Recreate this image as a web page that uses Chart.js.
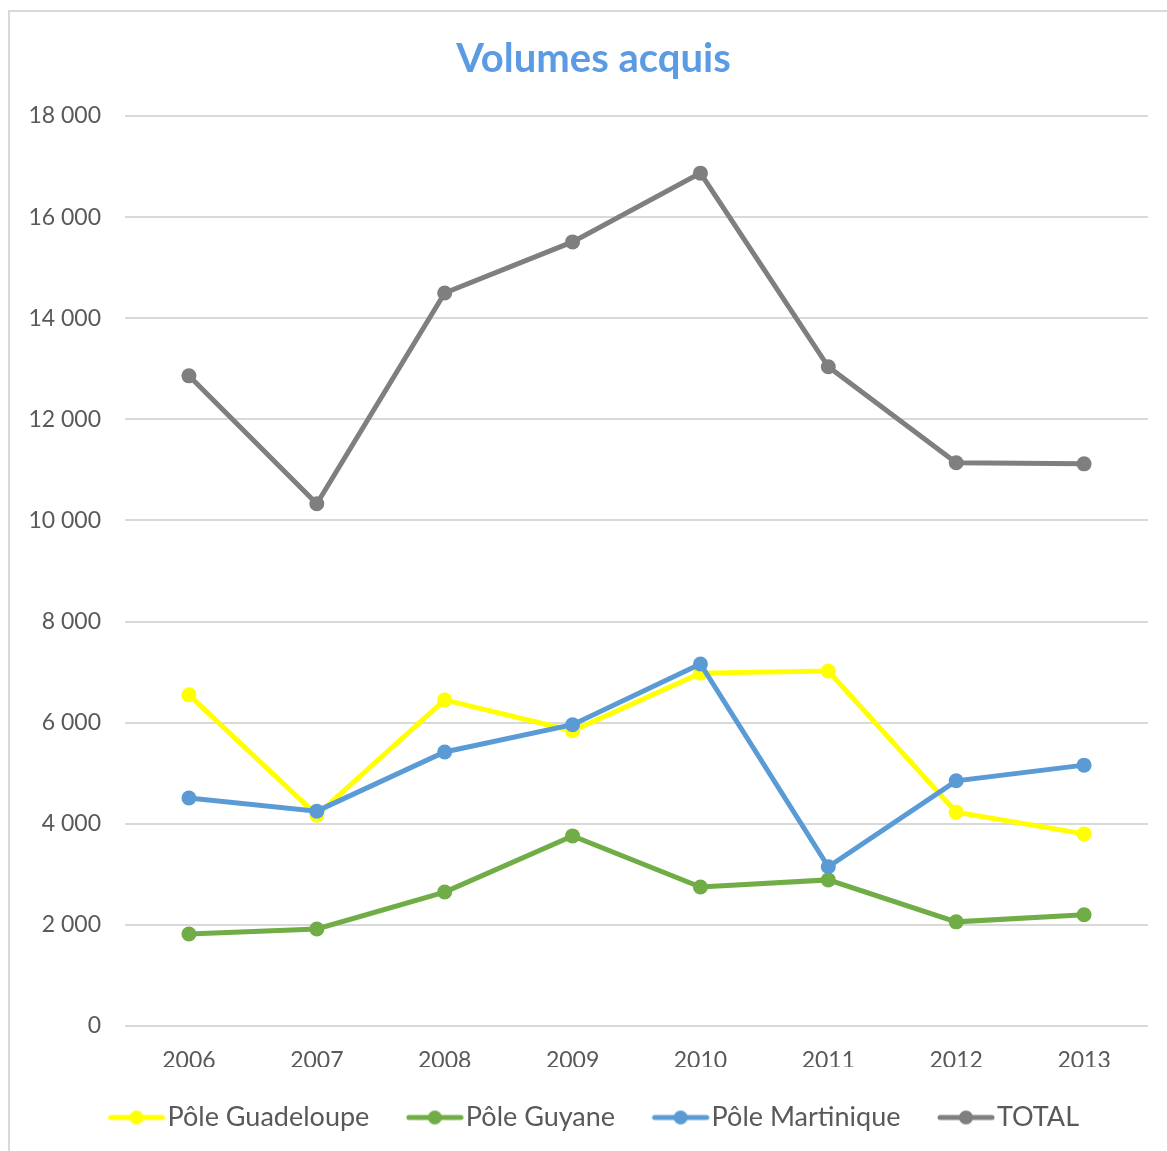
<!DOCTYPE html>
<html>
<head>
<meta charset="utf-8">
<script src="https://cdn.jsdelivr.net/npm/chart.js@4"></script>
<style>
  html, body { margin: 0; padding: 0; background: #fff; overflow: hidden; }
  #frame { position: absolute; left: 8px; top: 10px; width: 1172px; height: 1150px; border: 2px solid #d9d9d9; box-sizing: border-box; }
  #wrap { position: absolute; left: 0; top: 0; width: 1187px; height: 1151px; }
</style>
</head>
<body>
<div id="frame"></div>
<div id="wrap"><canvas id="lineChart"></canvas></div>
<script>
// données
const years = ['2006', '2007', '2008', '2009', '2010', '2011', '2012', '2013'];
const guadeloupe = [6550, 4170, 6450, 5840, 6980, 7020, 4230, 3800];
const guyane = [1820, 1920, 2650, 3760, 2750, 2890, 2060, 2200];
const martinique = [4510, 4250, 5420, 5960, 7160, 3150, 4850, 5160];
const total = [12860, 10330, 14500, 15510, 16870, 13040, 11140, 11120];
const yTicks = [0, 2000, 4000, 6000, 8000, 10000, 12000, 14000, 16000, 18000];

const FONT = 'Lato, "Open Sans", sans-serif';

// trait + point pour la légende ; le canvas déborde à gauche pour coller le texte au trait
function legendMarker(color) {
    const c = document.createElement('canvas');
    c.width = 69; c.height = 16;
    const g = c.getContext('2d');
    g.strokeStyle = color;
    g.lineWidth = 5;
    g.lineCap = 'round';
    g.beginPath(); g.moveTo(14, 8); g.lineTo(66, 8); g.stroke();
    g.fillStyle = color;
    g.beginPath(); g.arc(40, 8, 7, 0, Math.PI * 2); g.fill();
    return c;
}

function serie(label, data, color, order) {
    return {
        label: label,
        data: data,
        borderColor: color,
        backgroundColor: color,
        borderWidth: 5,
        pointRadius: 7.5,
        pointHoverRadius: 7.5,
        pointBorderWidth: 0,
        tension: 0,
        order: order,
        marker: legendMarker(color)
    };
}

const ctx = document.getElementById('lineChart').getContext('2d');
new Chart(ctx, {
    type: 'line',
    data: {
        labels: years,
        datasets: [
            serie('Pôle Guadeloupe', guadeloupe, '#FFFF00', 4),
            serie('Pôle Guyane', guyane, '#70AD47', 3),
            serie('Pôle Martinique', martinique, '#5B9BD5', 2),
            serie('TOTAL', total, '#7F7F7F', 1)
        ]
    },
    options: {
        responsive: true,
        maintainAspectRatio: false,
        animation: false,
        layout: { padding: { top: 17, right: 0, bottom: 10, left: 0 } },
        plugins: {
            title: {
                display: true,
                text: 'Volumes acquis',
                color: '#5B9BE3',
                font: { family: FONT, size: 40, weight: 'bold' },
                padding: { top: 18, bottom: 33 }
            },
            legend: {
                position: 'bottom',
                labels: {
                    usePointStyle: true,
                    pointStyleWidth: 46,
                    padding: 37,
                    color: '#595959',
                    font: { family: FONT, size: 27 },
                    generateLabels: (chart) => chart.data.datasets.map((ds, i) => ({
                        text: ds.label,
                        pointStyle: ds.marker,
                        fillStyle: ds.borderColor,
                        strokeStyle: ds.borderColor,
                        lineWidth: 0,
                        fontColor: '#595959',
                        hidden: false,
                        datasetIndex: i
                    }))
                }
            },
            tooltip: { enabled: false }
        },
        scales: {
            x: {
                offset: true,
                afterFit: (scale) => { scale.height = 41; },
                grid: { display: false },
                border: { display: false },
                ticks: { color: '#595959', font: { family: FONT, size: 23 }, padding: 13 }
            },
            y: {
                min: 0,
                max: 18000,
                afterFit: (scale) => { scale.width = 125; },
                afterBuildTicks: (scale) => { scale.ticks = yTicks.map(v => ({ value: v })); },
                grid: { color: '#d9d9d9', lineWidth: 2, drawTicks: false },
                border: { display: false },
                ticks: {
                    color: '#595959',
                    font: { family: FONT, size: 23 },
                    padding: 24,
                    callback: (v) => String(v).replace(/\B(?=(\d{3})+(?!\d))/g, ' ')
                }
            },
            // axe vide à droite, seulement pour la marge
            yRight: {
                position: 'right',
                afterFit: (scale) => { scale.width = 39; },
                grid: { display: false },
                border: { display: false },
                ticks: { display: false }
            }
        }
    }
});
</script>
</body>
</html>
